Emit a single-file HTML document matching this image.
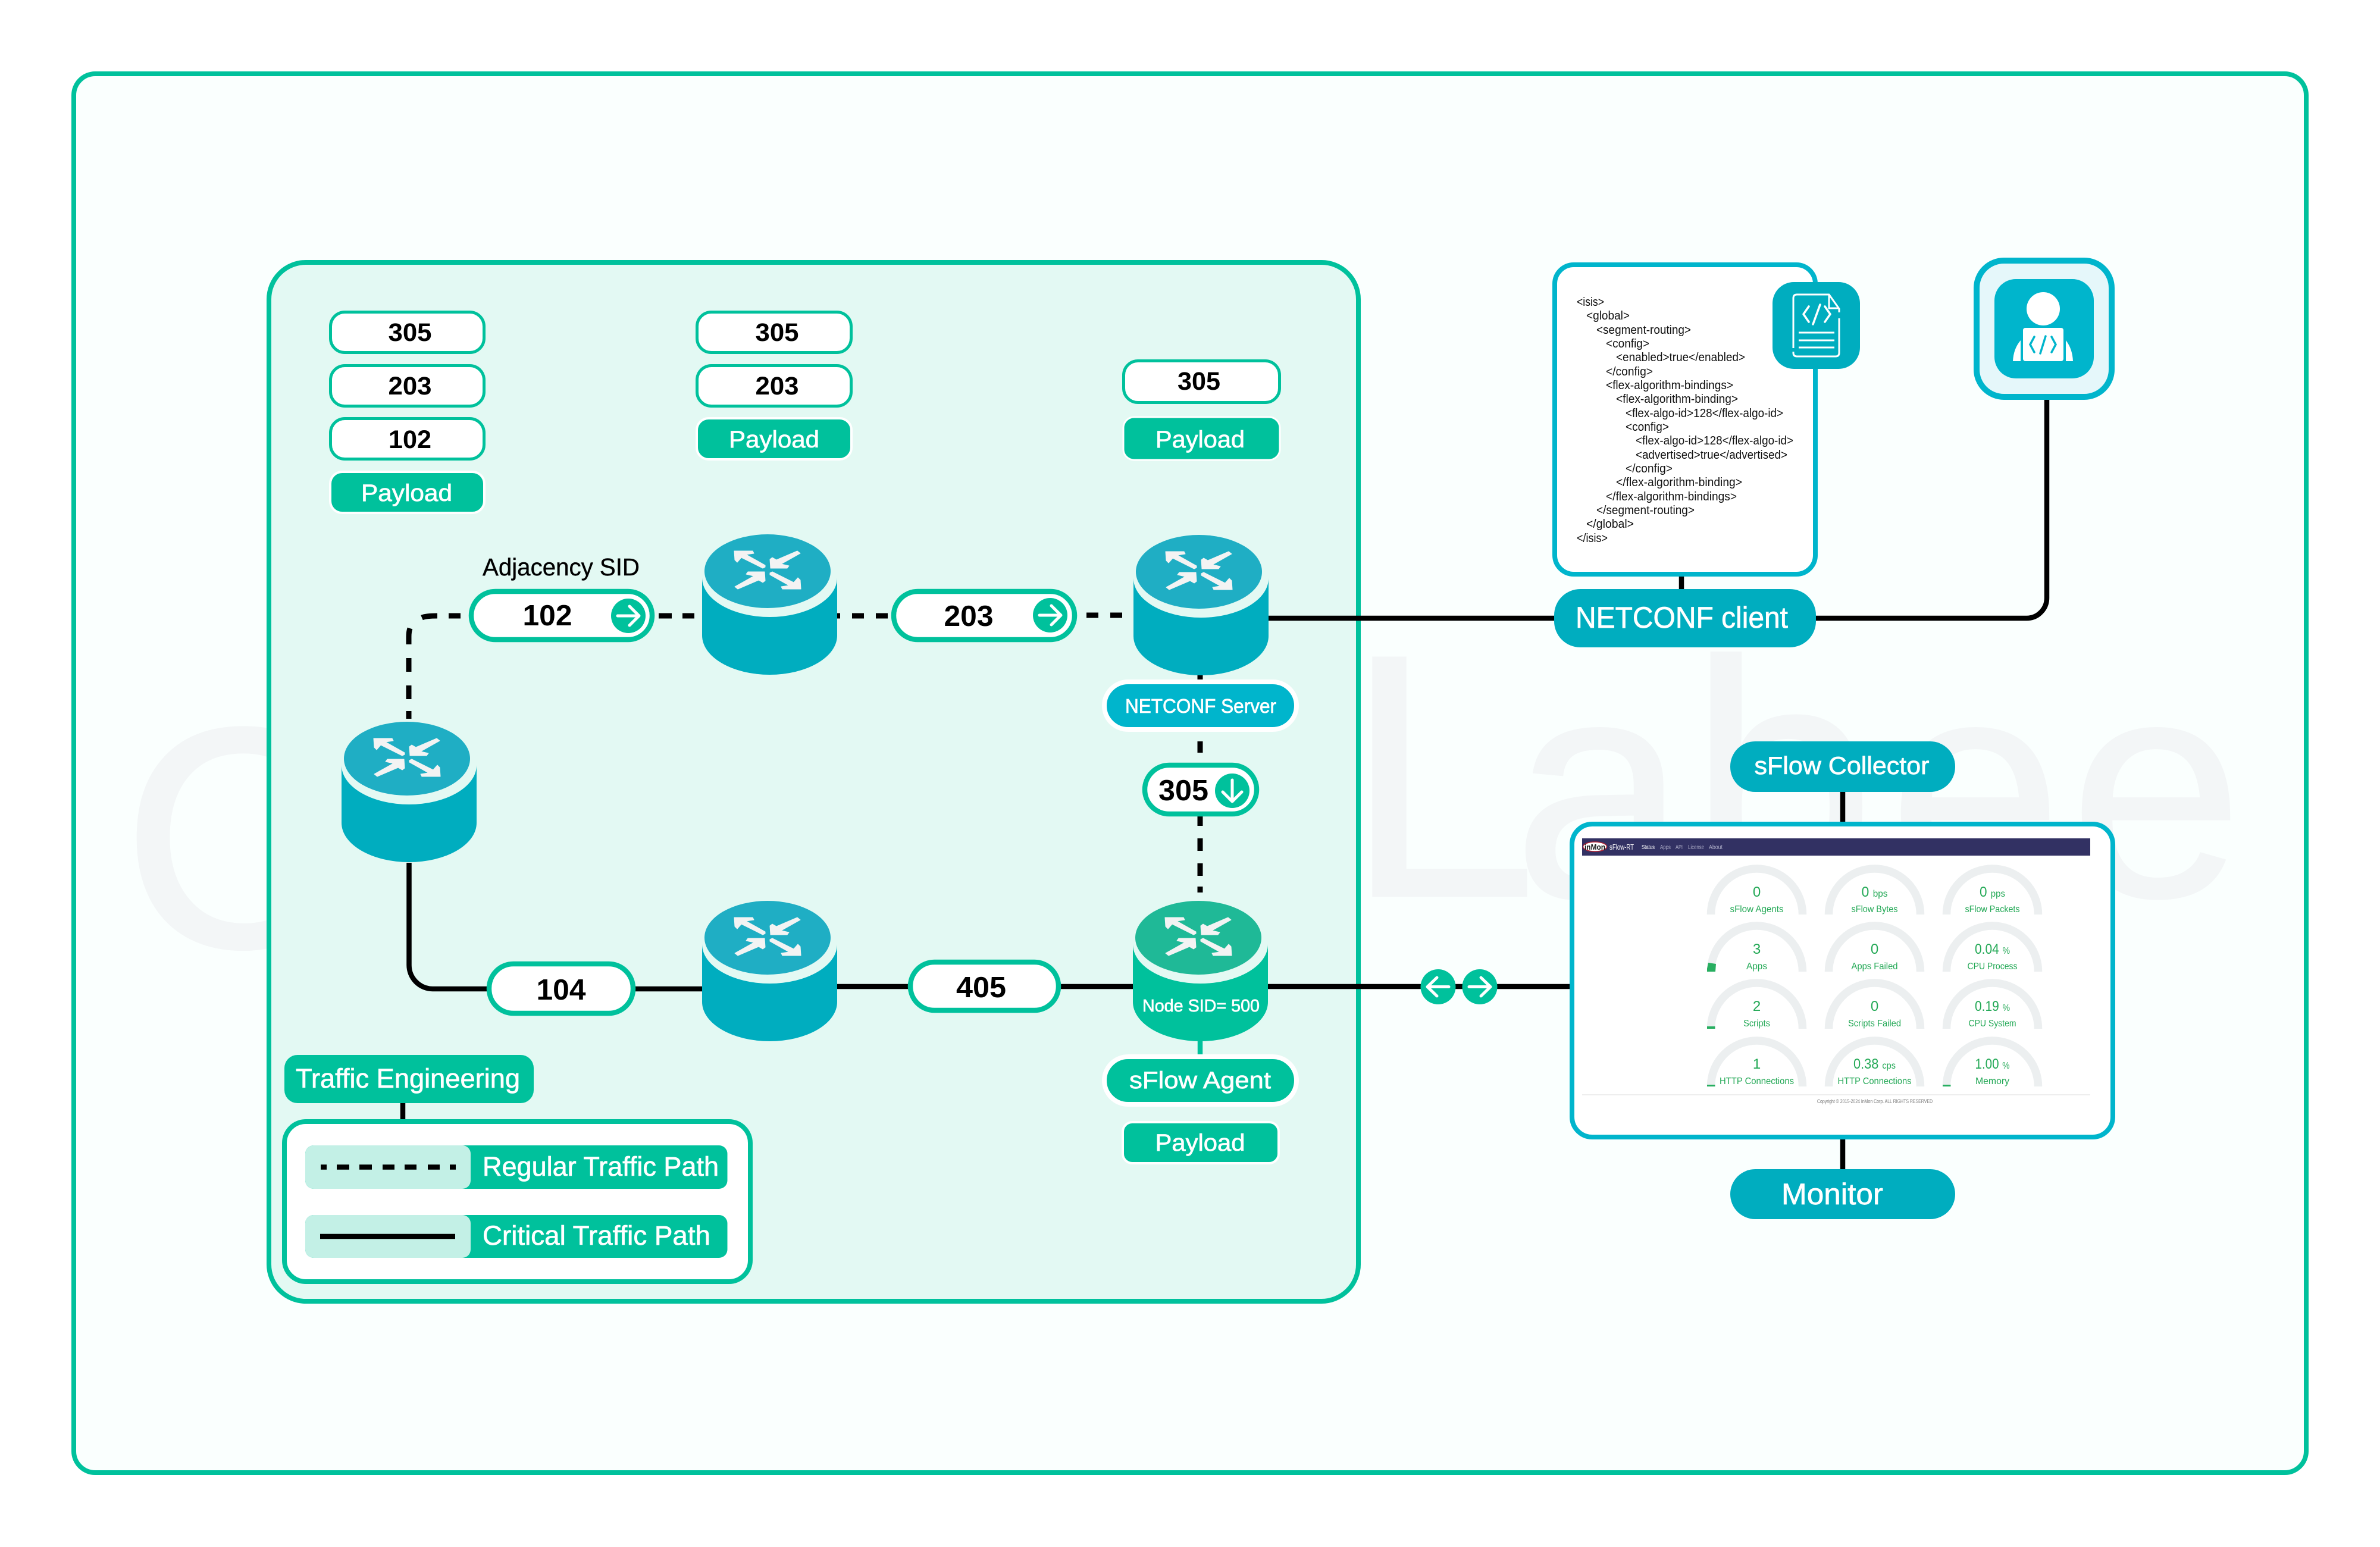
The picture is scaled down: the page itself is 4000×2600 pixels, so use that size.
<!DOCTYPE html>
<html><head><meta charset="utf-8"><style>
html,body{margin:0;padding:0;background:#fff}
svg{display:block}
text{font-family:"Liberation Sans",sans-serif}
.d{font-weight:700;fill:#000;text-anchor:middle}
.w{fill:#fff;stroke:#fff;stroke-width:.7;text-anchor:middle}
.x{font-size:20px;fill:#111}
.gv{font-size:24px;fill:#22a855;text-anchor:middle}
.gv tspan{font-size:16px}
.gl{font-size:16px;fill:#22a855;text-anchor:middle}
.ln{stroke:#000;stroke-width:8.5;fill:none}
.wm{fill:#f3f6f7;stroke:#f3f6f7;stroke-width:3}
</style></head><body>
<svg xmlns="http://www.w3.org/2000/svg" width="4000" height="2600" viewBox="0 0 4000 2600">
<defs>
<g id="arr" fill="#f3f3f3" stroke="#f3f3f3" stroke-width="1" stroke-linejoin="round">
<polygon id="nw" points="-56,-32 -25,-32 -23,-28 -36,-26 -4,-8 -4,-5 -8,-3 -44,-21 -51,-13 -55,-17"/>
<polygon id="ne" points="4,-18 8,-21 15,-17 50,-32 55,-28 23,-10 36,-7 33,-3 5,-3"/>
<use href="#nw" transform="scale(-1,-1)"/>
<use href="#ne" transform="scale(-1,-1)"/>
</g>
<g id="rb">
<path d="M0 73V170A113.5 66 0 0 0 227 170V73Z" fill="#00adbf"/>
<ellipse cx="113.5" cy="73" rx="113.5" ry="66" fill="#e3f9f3"/>
<ellipse cx="110" cy="62" rx="106" ry="62" fill="#1faec4"/>
<use href="#arr" transform="translate(110,60)"/>
</g>
<g id="rg">
<path d="M0 73V170A113.5 66 0 0 0 227 170V73Z" fill="#00c19c"/>
<ellipse cx="113.5" cy="73" rx="113.5" ry="66" fill="#e3f9f3"/>
<ellipse cx="110" cy="62" rx="106" ry="62" fill="#1fb997"/>
<use href="#arr" transform="translate(110,60)"/>
</g>
<path id="ga" d="M-77 0A77 77 0 0 1 77 0" fill="none" stroke="#eceff0" stroke-width="13.5"/>
</defs>

<rect x="124" y="124" width="3752" height="2351" rx="36" fill="#fafffe" stroke="#00c19c" stroke-width="8"/>

<!-- watermark -->
<text class="wm" x="206" y="1590" font-size="525" style="stroke-width:6">C</text>
<text class="wm" x="2260" y="1506" font-size="583">L</text>
<text class="wm" x="2543" y="1506" font-size="525">a</text>
<text class="wm" x="2838" y="1506" font-size="565">b</text>
<text class="wm" x="3174" y="1506" font-size="525">e</text>
<text class="wm" x="3478" y="1506" font-size="525">e</text>

<!-- inner panel -->
<rect x="452" y="441" width="1831" height="1746" rx="62" fill="#e3f9f3" stroke="#00c19c" stroke-width="8"/>

<!-- lines: dashed -->
<g stroke="#000" stroke-width="9" fill="none">
<path d="M687 1208V1195M687 1175V1152M687 1129V1106M687 1083V1070Q687 1062 689 1056M709 1038Q716 1035 735 1035M754 1035H774"/>
<path d="M1107 1035H1129M1147 1035H1167M1407 1035H1412M1432 1035H1452M1472 1035H1492"/>
<path d="M1826 1034H1846M1866 1034H1886"/>
<path d="M2017 1134V1144M2017 1246V1265M2017 1372V1388M2017 1409V1430M2017 1451V1472M2017 1490V1500"/>
</g>
<!-- lines: solid -->
<path class="ln" d="M687.5 1450V1622A40 40 0 0 0 727 1662H820M1066 1662H1182"/>
<path class="ln" d="M1405 1658H1528M1781 1658H1906"/>
<path class="ln" d="M2130 1658H2640"/>
<path class="ln" d="M2130 1039H2614M3050 1039H3406A34 34 0 0 0 3440 1005V670"/>
<path class="ln" d="M2826 966V992M3097 1330V1384M3097 1913V1967M677 1852V1883"/>
<path d="M2017 1748V1774" stroke="#00c19c" stroke-width="8.5"/>

<!-- label stacks -->
<g fill="#fff" stroke="#00c19c" stroke-width="5">
<rect x="555.5" y="524.5" width="258" height="68" rx="24"/>
<rect x="555.5" y="614.5" width="258" height="68" rx="24"/>
<rect x="555.5" y="703.5" width="258" height="68" rx="24"/>
<rect x="1171.5" y="524.5" width="259" height="68" rx="24"/>
<rect x="1171.5" y="614.5" width="259" height="68" rx="24"/>
<rect x="1888.5" y="606.5" width="262" height="70" rx="24"/>
</g>
<g fill="#00c19c" stroke="#fff" stroke-width="4">
<rect x="555" y="793" width="259" height="69" rx="20"/>
<rect x="1171" y="703" width="260" height="69" rx="20"/>
<rect x="1888" y="701" width="263" height="72" rx="18" stroke-width="3"/>
<rect x="1887" y="1886" width="262" height="69" rx="16"/>
</g>
<g font-size="43">
<text class="d" x="689" y="573" textLength="73" lengthAdjust="spacingAndGlyphs">305</text>
<text class="d" x="689" y="663" textLength="73" lengthAdjust="spacingAndGlyphs">203</text>
<text class="d" x="689" y="753" textLength="72" lengthAdjust="spacingAndGlyphs">102</text>
<text class="d" x="1306" y="573" textLength="73" lengthAdjust="spacingAndGlyphs">305</text>
<text class="d" x="1306" y="663" textLength="73" lengthAdjust="spacingAndGlyphs">203</text>
<text class="d" x="2015" y="655" textLength="72" lengthAdjust="spacingAndGlyphs">305</text>
</g>
<g font-size="40">
<text class="w" x="683.5" y="842" textLength="153" lengthAdjust="spacingAndGlyphs">Payload</text>
<text class="w" x="1301" y="752" textLength="152" lengthAdjust="spacingAndGlyphs">Payload</text>
<text class="w" x="2017" y="752" textLength="150" lengthAdjust="spacingAndGlyphs">Payload</text>
<text class="w" x="2017" y="1934" textLength="151" lengthAdjust="spacingAndGlyphs">Payload</text>
</g>

<text x="811" y="967" font-size="41" fill="#000" stroke="#000" stroke-width=".4" textLength="264" lengthAdjust="spacingAndGlyphs">Adjacency SID</text>

<!-- pills -->
<g fill="#fff" stroke="#00c19c" stroke-width="8.5">
<rect x="792" y="994" width="304" height="81" rx="40.5"/>
<rect x="1502" y="994" width="304" height="81" rx="40.5"/>
<rect x="1924" y="1286" width="188" height="82" rx="41"/>
<rect x="822" y="1620" width="242" height="83" rx="41"/>
<rect x="1530" y="1617" width="249" height="81" rx="40.5"/>
</g>
<g font-size="49">
<text class="d" x="920" y="1051" textLength="83" lengthAdjust="spacingAndGlyphs">102</text>
<text class="d" x="1628" y="1052" textLength="83" lengthAdjust="spacingAndGlyphs">203</text>
<text class="d" x="1989" y="1345" textLength="84" lengthAdjust="spacingAndGlyphs">305</text>
<text class="d" x="943" y="1680" textLength="83" lengthAdjust="spacingAndGlyphs">104</text>
<text class="d" x="1649" y="1676" textLength="84" lengthAdjust="spacingAndGlyphs">405</text>
</g>
<g fill="#00c19c">
<circle cx="1056" cy="1035" r="29"/><circle cx="1765" cy="1034" r="29"/><circle cx="2071" cy="1329" r="29"/>
<circle cx="2417" cy="1658.5" r="29.5"/><circle cx="2487" cy="1658.5" r="29.5"/>
</g>
<g stroke="#fff" stroke-width="5" fill="none" stroke-linecap="round" stroke-linejoin="round">
<path d="M1038 1035H1073M1058 1019L1074 1035 1058 1051"/>
<path d="M1747 1034H1782M1767 1018L1783 1034 1767 1050"/>
<path d="M2071 1311V1345M2055 1331L2071 1347 2087 1331"/>
<path d="M2435 1658.5H2400M2415 1643L2399 1658.5 2415 1674"/>
<path d="M2469 1658.5H2504M2489 1643L2505 1658.5 2489 1674"/>
</g>

<!-- routers -->
<use href="#rb" x="574" y="1213"/>
<use href="#rb" x="1180" y="898"/>
<use href="#rb" x="1180" y="1514"/>
<use href="#rb" x="1905" y="899"/>
<use href="#rg" x="1904" y="1514"/>
<text class="w" x="2018.5" y="1700" font-size="29" textLength="197" lengthAdjust="spacingAndGlyphs">Node SID= 500</text>

<!-- server/agent pills -->
<rect x="1856" y="1146" width="323" height="80" rx="40" fill="#00b5cc" stroke="#fff" stroke-width="8"/>
<text class="w" x="2018" y="1198" font-size="33" textLength="254" lengthAdjust="spacingAndGlyphs">NETCONF Server</text>
<rect x="1856" y="1776" width="323" height="80" rx="40" fill="#00c19c" stroke="#fff" stroke-width="8"/>
<text class="w" x="2017" y="1829" font-size="40" textLength="238" lengthAdjust="spacingAndGlyphs">sFlow Agent</text>

<!-- legend -->
<rect x="478" y="1773" width="419" height="81" rx="22" fill="#00c19c"/>
<text class="w" x="685.5" y="1828" font-size="45" textLength="377" lengthAdjust="spacingAndGlyphs">Traffic Engineering</text>
<rect x="478" y="1885" width="783" height="269" rx="36" fill="#fff" stroke="#00c19c" stroke-width="8"/>
<rect x="513" y="1925" width="709.5" height="73" rx="14" fill="#00c19c"/>
<rect x="513" y="1925" width="278" height="73" rx="14" fill="#c3f0e6"/>
<rect x="513" y="2042" width="709.5" height="72" rx="14" fill="#00c19c"/>
<rect x="513" y="2042" width="278" height="72" rx="14" fill="#c3f0e6"/>
<path d="M539 1961.5H549M566 1961.5H587M604 1961.5H625M643 1961.5H663M680 1961.5H700M719 1961.5H739M756 1961.5H766" stroke="#000" stroke-width="8.5" fill="none"/>
<path d="M538 2078H765" stroke="#000" stroke-width="8.5"/>
<text class="w" x="1009.5" y="1976" font-size="45" textLength="397" lengthAdjust="spacingAndGlyphs">Regular Traffic Path</text>
<text class="w" x="1002.5" y="2092" font-size="45" textLength="383" lengthAdjust="spacingAndGlyphs">Critical Traffic Path</text>

<!-- XML doc -->
<rect x="2613" y="445" width="438" height="520" rx="32" fill="#fff" stroke="#00b5cc" stroke-width="8"/>
<g>
<text class="x" x="2650" y="514" textLength="46" lengthAdjust="spacingAndGlyphs">&lt;isis&gt;</text>
<text class="x" x="2666" y="537" textLength="73" lengthAdjust="spacingAndGlyphs">&lt;global&gt;</text>
<text class="x" x="2683" y="561" textLength="159" lengthAdjust="spacingAndGlyphs">&lt;segment-routing&gt;</text>
<text class="x" x="2699" y="584" textLength="73" lengthAdjust="spacingAndGlyphs">&lt;config&gt;</text>
<text class="x" x="2716" y="607" textLength="217" lengthAdjust="spacingAndGlyphs">&lt;enabled&gt;true&lt;/enabled&gt;</text>
<text class="x" x="2699" y="631" textLength="79" lengthAdjust="spacingAndGlyphs">&lt;/config&gt;</text>
<text class="x" x="2699" y="654" textLength="214" lengthAdjust="spacingAndGlyphs">&lt;flex-algorithm-bindings&gt;</text>
<text class="x" x="2716" y="677" textLength="205" lengthAdjust="spacingAndGlyphs">&lt;flex-algorithm-binding&gt;</text>
<text class="x" x="2732" y="701" textLength="265" lengthAdjust="spacingAndGlyphs">&lt;flex-algo-id&gt;128&lt;/flex-algo-id&gt;</text>
<text class="x" x="2732" y="724" textLength="73" lengthAdjust="spacingAndGlyphs">&lt;config&gt;</text>
<text class="x" x="2749" y="747" textLength="265" lengthAdjust="spacingAndGlyphs">&lt;flex-algo-id&gt;128&lt;/flex-algo-id&gt;</text>
<text class="x" x="2749" y="771" textLength="255" lengthAdjust="spacingAndGlyphs">&lt;advertised&gt;true&lt;/advertised&gt;</text>
<text class="x" x="2732" y="794" textLength="79" lengthAdjust="spacingAndGlyphs">&lt;/config&gt;</text>
<text class="x" x="2716" y="817" textLength="212" lengthAdjust="spacingAndGlyphs">&lt;/flex-algorithm-binding&gt;</text>
<text class="x" x="2699" y="841" textLength="220" lengthAdjust="spacingAndGlyphs">&lt;/flex-algorithm-bindings&gt;</text>
<text class="x" x="2683" y="864" textLength="165" lengthAdjust="spacingAndGlyphs">&lt;/segment-routing&gt;</text>
<text class="x" x="2666" y="887" textLength="80" lengthAdjust="spacingAndGlyphs">&lt;/global&gt;</text>
<text class="x" x="2650" y="911" textLength="52" lengthAdjust="spacingAndGlyphs">&lt;/isis&gt;</text>
</g>
<rect x="2979" y="474" width="147" height="146" rx="36" fill="#00adbf"/>
<g stroke="#fff" stroke-width="3" fill="none" stroke-linejoin="round">
<path d="M3014 585V501Q3014 495 3020 495H3074L3091 519V525M3091 535V593Q3091 599 3085 599H3020Q3014 599 3014 593V591"/>
<path d="M3074 495V518H3091"/>
<path d="M3040 515L3031 528 3040 541M3067 515L3076 528 3067 541M3059 512L3047 545" stroke-width="3.5" stroke-linecap="round"/>
<path d="M3023 559H3083M3023 572H3083M3023 584H3083"/>
</g>

<!-- NETCONF client -->
<rect x="2612" y="990" width="440" height="98" rx="44" fill="#00adbf"/>
<text class="w" x="2826.5" y="1055" font-size="50" textLength="357" lengthAdjust="spacingAndGlyphs">NETCONF client</text>

<!-- developer -->
<rect x="3322" y="438" width="227" height="229" rx="46" fill="#e5f7fa" stroke="#00b5cc" stroke-width="10"/>
<rect x="3352" y="469" width="167" height="167" rx="36" fill="#00b5cc"/>
<ellipse cx="3434" cy="519" rx="28" ry="28" fill="#fff"/>
<rect x="3400" y="551" width="68" height="56" rx="4" fill="#fff"/>
<path d="M3396 572Q3384 586 3383 607H3396ZM3472 572Q3483 586 3484 607H3472Z" fill="#fff"/>
<path d="M3419 566L3412 579 3419 592M3448 566L3455 579 3448 592M3438 565L3429 594" stroke="#00b5cc" stroke-width="3.5" fill="none" stroke-linecap="round"/>

<!-- sFlow collector -->
<rect x="2908" y="1246" width="378" height="85" rx="42" fill="#00adbf"/>
<text class="w" x="3095.5" y="1301" font-size="42" textLength="294" lengthAdjust="spacingAndGlyphs">sFlow Collector</text>

<!-- Monitor -->
<rect x="2642" y="1385" width="909" height="526" rx="34" fill="#fff" stroke="#00b5cc" stroke-width="8"/>
<rect x="2659" y="1409" width="854" height="29" fill="#323163"/>
<ellipse cx="2680.5" cy="1423" rx="20" ry="8" fill="#fff" stroke="#b02030" stroke-width="1.5"/>
<text x="2663" y="1428" font-size="13" font-weight="700" fill="#111" textLength="35" lengthAdjust="spacingAndGlyphs">inMon</text>
<text x="2705" y="1428" font-size="13" fill="#fff" textLength="41" lengthAdjust="spacingAndGlyphs">sFlow-RT</text>
<g font-size="10.5">
<text x="2759" y="1427" fill="#fff" textLength="22" lengthAdjust="spacingAndGlyphs">Status</text>
<text x="2790" y="1427" fill="#a9a9c4" textLength="18" lengthAdjust="spacingAndGlyphs">Apps</text>
<text x="2816" y="1427" fill="#a9a9c4" textLength="12" lengthAdjust="spacingAndGlyphs">API</text>
<text x="2837" y="1427" fill="#a9a9c4" textLength="27" lengthAdjust="spacingAndGlyphs">License</text>
<text x="2872" y="1427" fill="#a9a9c4" textLength="23" lengthAdjust="spacingAndGlyphs">About</text>
</g>
<use href="#ga" x="2952.5" y="1537"/><use href="#ga" x="3150.5" y="1537"/><use href="#ga" x="3348.5" y="1537"/>
<use href="#ga" x="2952.5" y="1633"/><use href="#ga" x="3150.5" y="1633"/><use href="#ga" x="3348.5" y="1633"/>
<use href="#ga" x="2952.5" y="1729"/><use href="#ga" x="3150.5" y="1729"/><use href="#ga" x="3348.5" y="1729"/>
<use href="#ga" x="2952.5" y="1826"/><use href="#ga" x="3150.5" y="1826"/><use href="#ga" x="3348.5" y="1826"/>
<g fill="#27ae60">
<path d="M2869 1633V1628L2871 1618 2884 1620 2883 1633Z"/>
<rect x="2869" y="1725" width="13.5" height="4"/>
<rect x="2869" y="1823" width="13.5" height="3"/>
<rect x="3265" y="1823" width="13.5" height="3"/>
</g>
<text class="gv" x="2952.5" y="1507">0</text>
<text class="gv" x="3150.5" y="1507" textLength="44" lengthAdjust="spacingAndGlyphs">0 <tspan>bps</tspan></text>
<text class="gv" x="3348.5" y="1507" textLength="43" lengthAdjust="spacingAndGlyphs">0 <tspan>pps</tspan></text>
<text class="gv" x="2952.5" y="1603">3</text>
<text class="gv" x="3150.5" y="1603">0</text>
<text class="gv" x="3348.5" y="1603" textLength="59" lengthAdjust="spacingAndGlyphs">0.04 <tspan>%</tspan></text>
<text class="gv" x="2952.5" y="1699">2</text>
<text class="gv" x="3150.5" y="1699">0</text>
<text class="gv" x="3348.5" y="1699" textLength="59" lengthAdjust="spacingAndGlyphs">0.19 <tspan>%</tspan></text>
<text class="gv" x="2952.5" y="1796">1</text>
<text class="gv" x="3150.5" y="1796" textLength="71" lengthAdjust="spacingAndGlyphs">0.38 <tspan>cps</tspan></text>
<text class="gv" x="3348.5" y="1796" textLength="58" lengthAdjust="spacingAndGlyphs">1.00 <tspan>%</tspan></text>
<text class="gl" x="2952.5" y="1533" textLength="90" lengthAdjust="spacingAndGlyphs">sFlow Agents</text>
<text class="gl" x="3150.5" y="1533" textLength="78" lengthAdjust="spacingAndGlyphs">sFlow Bytes</text>
<text class="gl" x="3348.5" y="1533" textLength="92" lengthAdjust="spacingAndGlyphs">sFlow Packets</text>
<text class="gl" x="2952.5" y="1629" textLength="35" lengthAdjust="spacingAndGlyphs">Apps</text>
<text class="gl" x="3150.5" y="1629" textLength="78" lengthAdjust="spacingAndGlyphs">Apps Failed</text>
<text class="gl" x="3348.5" y="1629" textLength="84" lengthAdjust="spacingAndGlyphs">CPU Process</text>
<text class="gl" x="2952.5" y="1725" textLength="45" lengthAdjust="spacingAndGlyphs">Scripts</text>
<text class="gl" x="3150.5" y="1725" textLength="89" lengthAdjust="spacingAndGlyphs">Scripts Failed</text>
<text class="gl" x="3348.5" y="1725" textLength="80" lengthAdjust="spacingAndGlyphs">CPU System</text>
<text class="gl" x="2952.5" y="1822" textLength="125" lengthAdjust="spacingAndGlyphs">HTTP Connections</text>
<text class="gl" x="3150.5" y="1822" textLength="124" lengthAdjust="spacingAndGlyphs">HTTP Connections</text>
<text class="gl" x="3348.5" y="1822" textLength="57" lengthAdjust="spacingAndGlyphs">Memory</text>
<path d="M2659 1840H3513" stroke="#eee" stroke-width="2"/>
<text x="3054" y="1854" font-size="9.5" fill="#777" textLength="194" lengthAdjust="spacingAndGlyphs">Copyright © 2015-2024 InMon Corp. ALL RIGHTS RESERVED</text>

<rect x="2908" y="1965" width="378" height="84" rx="42" fill="#00adbf"/>
<text class="w" x="3079.5" y="2024" font-size="50" textLength="171" lengthAdjust="spacingAndGlyphs">Monitor</text>
</svg>
</body></html>
